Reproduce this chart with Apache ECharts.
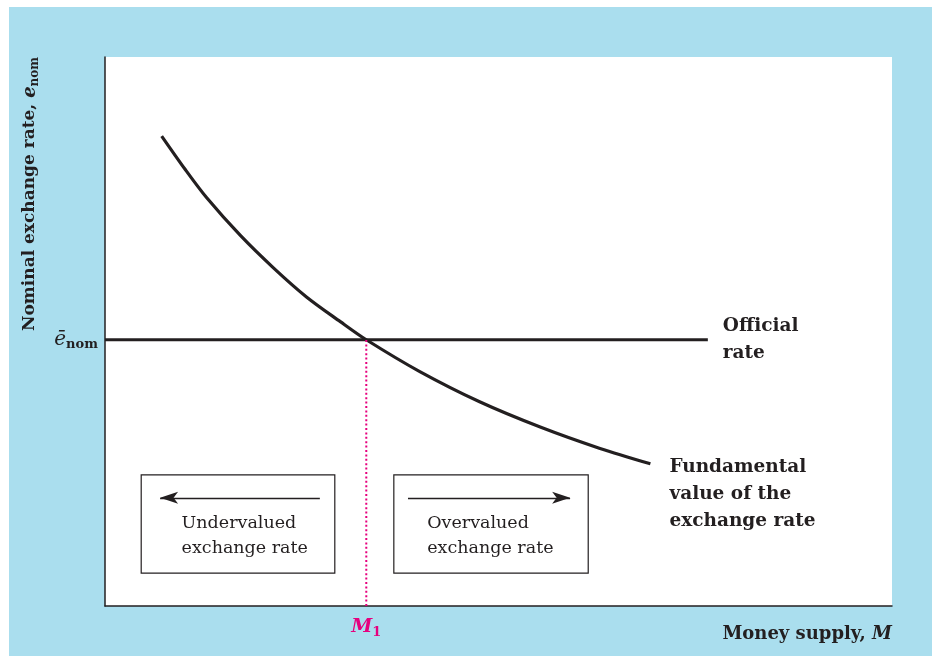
<!DOCTYPE html>
<html>
<head>
<meta charset="utf-8">
<script src="https://cdn.jsdelivr.net/npm/echarts@6/dist/echarts.min.js"></script>
<style>
  html, body { margin: 0; padding: 0; background: #ffffff; }
  #chart { position: absolute; left: 9px; top: 7px; width: 923px; height: 649px; background: #aadeee; }
</style>
</head>
<body>
<div id="chart"></div>
<script>
// fundamental value curve (money supply -> exchange rate)
var curveX = [7.2, 10.2, 12.9, 17.2, 21.4, 25.6, 29.9, 33.2, 40.0, 47.6, 55.3, 62.9, 69.3];
var curveY = [85.6, 79.5, 74.4, 67.5, 61.6, 56.3, 51.8, 48.5, 42.7, 37.2, 32.6, 28.7, 25.9];
var officialLevel = 48.5;
var officialEnd = 76.6;
var m1 = 33.2;
// boxes: [x1, y1, x2, y2]
var underBox = [4.6, 6.0, 29.2, 23.9];
var overBox = [36.7, 6.0, 61.4, 23.9];
// arrows: [from, to, level]
var underArrow = [27.3, 7.0, 19.7];
var overArrow = [38.5, 59.1, 19.7];

var ink = '#231f20';
var pink = '#e6007e';
var serif = 'DejaVu Serif';

var curve = [];
for (var i = 0; i < curveX.length; i++) {
  curve.push([curveX[i], curveY[i]]);
}

var chart = echarts.init(document.getElementById('chart'));

function box(b, text, dx) {
  return [
    {
      coord: [b[0], b[3]],
      label: {
        show: true,
        position: [dx, 37],
        align: 'left',
        verticalAlign: 'top',
        formatter: text,
        fontFamily: serif,
        fontSize: 17.5,
        lineHeight: 25,
        color: ink
      }
    },
    { coord: [b[2], b[1]] }
  ];
}

var option = {
  animation: false,
  grid: {
    left: 96, top: 50, right: 40, bottom: 50,
    show: true, backgroundColor: '#ffffff', borderWidth: 0
  },
  xAxis: {
    type: 'value', min: 0, max: 100,
    splitLine: { show: false },
    axisTick: { show: false },
    axisLine: { lineStyle: { color: ink, width: 1.5 } },
    axisLabel: {
      customValues: [m1],
      margin: 10,
      formatter: function () { return '{m|M}{s|1}'; },
      rich: {
        m: { fontFamily: serif, fontStyle: 'italic', fontWeight: 'bold', fontSize: 19, color: pink },
        s: { fontFamily: serif, fontWeight: 'bold', fontSize: 13, color: pink, padding: [10, 0, 0, 0] }
      }
    },
    name: '{t|Money supply, }{i|M}',
    nameLocation: 'end',
    nameGap: 0,
    nameTextStyle: {
      align: 'right', verticalAlign: 'top', padding: [19, 0, 0, 0],
      rich: {
        t: { fontFamily: serif, fontWeight: 'bold', fontSize: 18, color: ink },
        i: { fontFamily: serif, fontWeight: 'bold', fontStyle: 'italic', fontSize: 18, color: ink }
      }
    }
  },
  yAxis: {
    type: 'value', min: 0, max: 100,
    splitLine: { show: false },
    axisTick: { show: false },
    axisLine: { lineStyle: { color: ink, width: 1.5 } },
    axisLabel: {
      customValues: [officialLevel],
      margin: 7,
      formatter: function () { return '{e|ē}{s|nom}'; },
      rich: {
        e: { fontFamily: serif, fontStyle: 'italic', fontSize: 20, color: ink },
        s: { fontFamily: serif, fontWeight: 'bold', fontSize: 13, color: ink, padding: [9, 0, 0, 0] }
      }
    }
  },
  graphic: [
    {
      type: 'text',
      x: 21, y: 187,
      rotation: Math.PI / 2,
      style: {
        text: '{t|Nominal exchange rate, }{e|e}{s|nom}',
        align: 'center', verticalAlign: 'middle',
        rich: {
          t: { fontFamily: serif, fontWeight: 'bold', fontSize: 17, fill: ink },
          e: { fontFamily: serif, fontWeight: 'bold', fontStyle: 'italic', fontSize: 18, fill: ink },
          s: { fontFamily: serif, fontWeight: 'bold', fontSize: 12, fill: ink, padding: [9, 0, 0, 0] }
        }
      }
    }
  ],
  series: [
    {
      name: 'Fundamental',
      type: 'line',
      smooth: 0.3,
      symbol: 'none',
      silent: true,
      lineStyle: { color: ink, width: 3.2 },
      data: curve,
      endLabel: {
        show: true,
        formatter: 'Fundamental\nvalue of the\nexchange rate',
        distance: 19,
        offset: [0, 30],
        fontFamily: serif, fontWeight: 'bold', fontSize: 18.5, lineHeight: 27, color: ink
      }
    },
    {
      name: 'Official rate',
      type: 'line',
      symbol: 'none',
      silent: true,
      lineStyle: { color: ink, width: 3.2 },
      data: [[0, officialLevel], [officialEnd, officialLevel]],
      endLabel: {
        show: true,
        formatter: 'Official\nrate',
        distance: 15,
        fontFamily: serif, fontWeight: 'bold', fontSize: 18.5, lineHeight: 27, color: ink
      },
      markArea: {
        silent: true,
        itemStyle: { color: 'rgba(0,0,0,0)', borderColor: ink, borderWidth: 1.2 },
        data: [
          box(underBox, 'Undervalued\nexchange rate', 41),
          box(overBox, 'Overvalued\nexchange rate', 34)
        ]
      },
      markLine: {
        silent: true,
        symbol: ['none', 'arrow'],
        symbolSize: [9, 18],
        label: { show: false },
        lineStyle: { color: ink, width: 1.3, type: 'solid' },
        data: [
          [{ coord: [underArrow[0], underArrow[2]] }, { coord: [underArrow[1], underArrow[2]] }],
          [{ coord: [overArrow[0], overArrow[2]] }, { coord: [overArrow[1], overArrow[2]] }]
        ]
      }
    },
    {
      name: 'M1',
      type: 'line',
      symbol: 'none',
      silent: true,
      lineStyle: { color: pink, width: 2, type: [2, 2.4] },
      data: [[m1, 0], [m1, officialLevel]]
    }
  ]
};
chart.setOption(option);
</script>
</body>
</html>
